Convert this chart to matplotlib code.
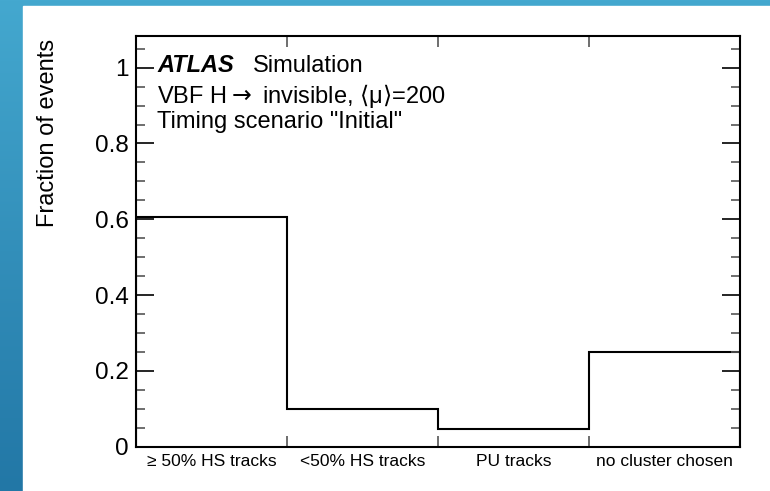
import numpy as np
import matplotlib
matplotlib.use("Agg")
import matplotlib.pyplot as plt
from matplotlib.patches import Rectangle
from matplotlib.ticker import MultipleLocator, FuncFormatter

plt.rcParams['font.family'] = ['Liberation Sans', 'DejaVu Sans']

# data
categories = ["\u2265 50% HS tracks", "<50% HS tracks", "PU tracks", "no cluster chosen"]
fractions = [0.607, 0.099, 0.046, 0.25]
edges = np.arange(len(categories) + 1)

W, H = 770, 491
fig = plt.figure(figsize=(W / 100, H / 100), dpi=100)

# slide background: blue gradient frame with white page
bg = fig.add_axes([0, 0, 1, 1], zorder=-10)
grad = np.linspace(0, 1, 256).reshape(-1, 1)
cmap = matplotlib.colors.LinearSegmentedColormap.from_list('frame', ['#44a8cf', '#2277a6'])
bg.imshow(grad, aspect='auto', cmap=cmap, extent=[0, 1, 0, 1])
bg.add_patch(Rectangle((23 / W, 0), 1, 1 - 6 / H, color='white', transform=bg.transAxes))
bg.set_xlim(0, 1)
bg.set_ylim(0, 1)
bg.axis('off')

ax = fig.add_axes([136 / W, 1 - 446.7 / H, 604 / W, 410.7 / H])
ax.set_facecolor('none')

ax.stairs(fractions, edges, color='black', lw=1.5)

ax.set_xlim(edges[0], edges[-1])
ax.set_ylim(0, 1.0836)

# ticks
ax.set_xticks(edges[1:-1])
ax.set_xticklabels([])
ax.set_xticks(edges[:-1] + 0.5, minor=True)
ax.set_xticklabels(categories, minor=True, fontsize=12.5)
ax.tick_params(axis='x', which='minor', length=0, pad=5)
ax.tick_params(axis='x', which='major', direction='in', length=8, width=1.2,
               top=True, colors='#555555')
ax.yaxis.set_major_locator(MultipleLocator(0.2))
ax.yaxis.set_minor_locator(MultipleLocator(0.05))
ax.yaxis.set_major_formatter(FuncFormatter(lambda v, p: f"{v:g}"))
ax.tick_params(axis='y', which='both', direction='in', right=True, width=1.2)
ax.tick_params(axis='y', which='major', length=13, labelsize=17.5, pad=5)
ax.tick_params(axis='y', which='minor', length=6.5, color='#555555')
for s in ax.spines.values():
    s.set_linewidth(1.5)

ax.set_ylabel("Fraction of events", fontsize=17, va='center', ha='center')
ax.yaxis.set_label_coords(-0.146, 0.764)

# labels
fs = 17
ax.text(0.035, 0.912, "ATLAS", transform=ax.transAxes, fontsize=fs,
        fontweight='bold', style='italic', va='baseline')
ax.text(0.194, 0.912, "Simulation", transform=ax.transAxes, fontsize=fs, va='baseline')
ax.text(0.035, 0.837, "VBF H$\\rightarrow$ invisible, $\\langle$\u03bc$\\rangle$=200",
        transform=ax.transAxes, fontsize=fs, va='baseline')
ax.text(0.035, 0.776, 'Timing scenario "Initial"', transform=ax.transAxes,
        fontsize=fs, va='baseline')

fig.savefig("out.png", dpi=100)
